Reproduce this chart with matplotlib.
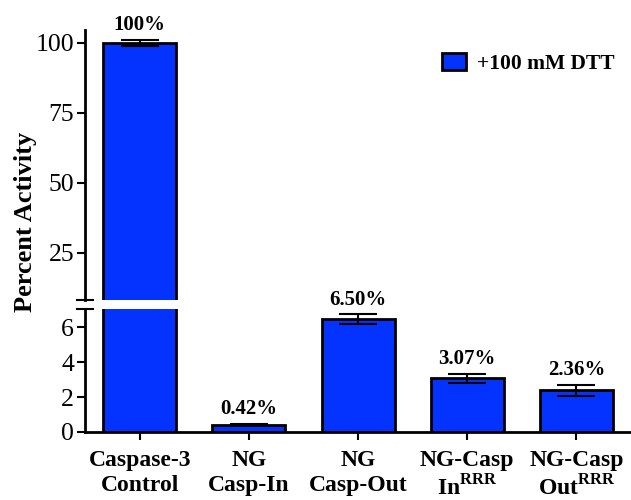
import matplotlib
matplotlib.use("Agg")
import matplotlib.pyplot as plt
import numpy as np

plt.rcParams['font.family'] = ['Liberation Serif', 'DejaVu Serif']
plt.rcParams['mathtext.fontset'] = 'custom'
plt.rcParams['mathtext.rm'] = 'Liberation Serif'
plt.rcParams['mathtext.bf'] = 'Liberation Serif:bold'

# datos
categorias = ["Caspase-3\nControl", "NG\nCasp-In", "NG\nCasp-Out",
              "NG-Casp\nIn$^{\\mathbf{RRR}}$", "NG-Casp\nOut$^{\\mathbf{RRR}}$"]
actividad = [100.0, 0.42, 6.44, 3.07, 2.38]
error = [1.1, 0.03, 0.28, 0.25, 0.33]
etiquetas = ["100%", "0.42%", "6.50%", "3.07%", "2.36%"]
serie = "+100 mM DTT"

azul = "#0433ff"
x = np.arange(len(categorias))

fig = plt.figure(figsize=(6.31, 5), dpi=100)
ax_top = fig.add_axes([0.135, 0.40, 0.865, 0.54])
ax_bot = fig.add_axes([0.135, 0.136, 0.865, 0.246])

for ax in (ax_top, ax_bot):
    ax.bar(x, actividad, width=0.67, color=azul, edgecolor="black", linewidth=2,
           label=serie, zorder=2)
    ax.errorbar(x, actividad, yerr=error, fmt="none", ecolor="black",
                elinewidth=1.5, capsize=14, capthick=1.5, zorder=3)
    ax.set_xlim(-0.5, 4.5)
    ax.spines["top"].set_visible(False)
    ax.spines["right"].set_visible(False)
    ax.spines["left"].set_linewidth(2)
    ax.tick_params(axis="y", direction="out", length=6, width=1.5, labelsize=18.5, pad=2)

ax_top.set_ylim(8.2, 104.6)
ax_top.set_yticks([25, 50, 75, 100])
ax_top.spines["bottom"].set_visible(False)
ax_top.set_xticks([])

ax_bot.set_ylim(0, 7.03)
ax_bot.set_yticks([0, 2, 4, 6])
ax_bot.spines["bottom"].set_linewidth(2)
ax_bot.set_xticks(x)
ax_bot.set_xticklabels(categorias, fontsize=17, fontweight="bold", linespacing=1.22)
ax_bot.tick_params(axis="x", direction="out", length=6, width=1.5, pad=7)

# marcas del corte del eje
kw = dict(color="black", lw=1.5, clip_on=False, transform=fig.transFigure)
fig.add_artist(plt.Line2D([0.122, 0.148], [0.40, 0.40], **kw))
fig.add_artist(plt.Line2D([0.122, 0.148], [0.382, 0.382], **kw))

# etiquetas de valor
for i in range(len(actividad)):
    ax = ax_top if actividad[i] > 8.2 else ax_bot
    ax.annotate(etiquetas[i], (x[i], actividad[i] + error[i]), xytext=(0, 3.5),
                textcoords="offset points", ha="center", va="bottom",
                fontsize=15, fontweight="bold", annotation_clip=False)

ax_top.legend(loc="upper right", frameon=False, prop={"weight": "bold", "size": 15.5},
              handlelength=1.1, handleheight=0.8, handletextpad=0.5,
              bbox_to_anchor=(1.005, 0.985))

fig.text(0.04, 0.556, "Percent Activity", rotation=90, ha="center", va="center",
         fontsize=19, fontweight="bold")

fig.savefig("out.png", dpi=100)
